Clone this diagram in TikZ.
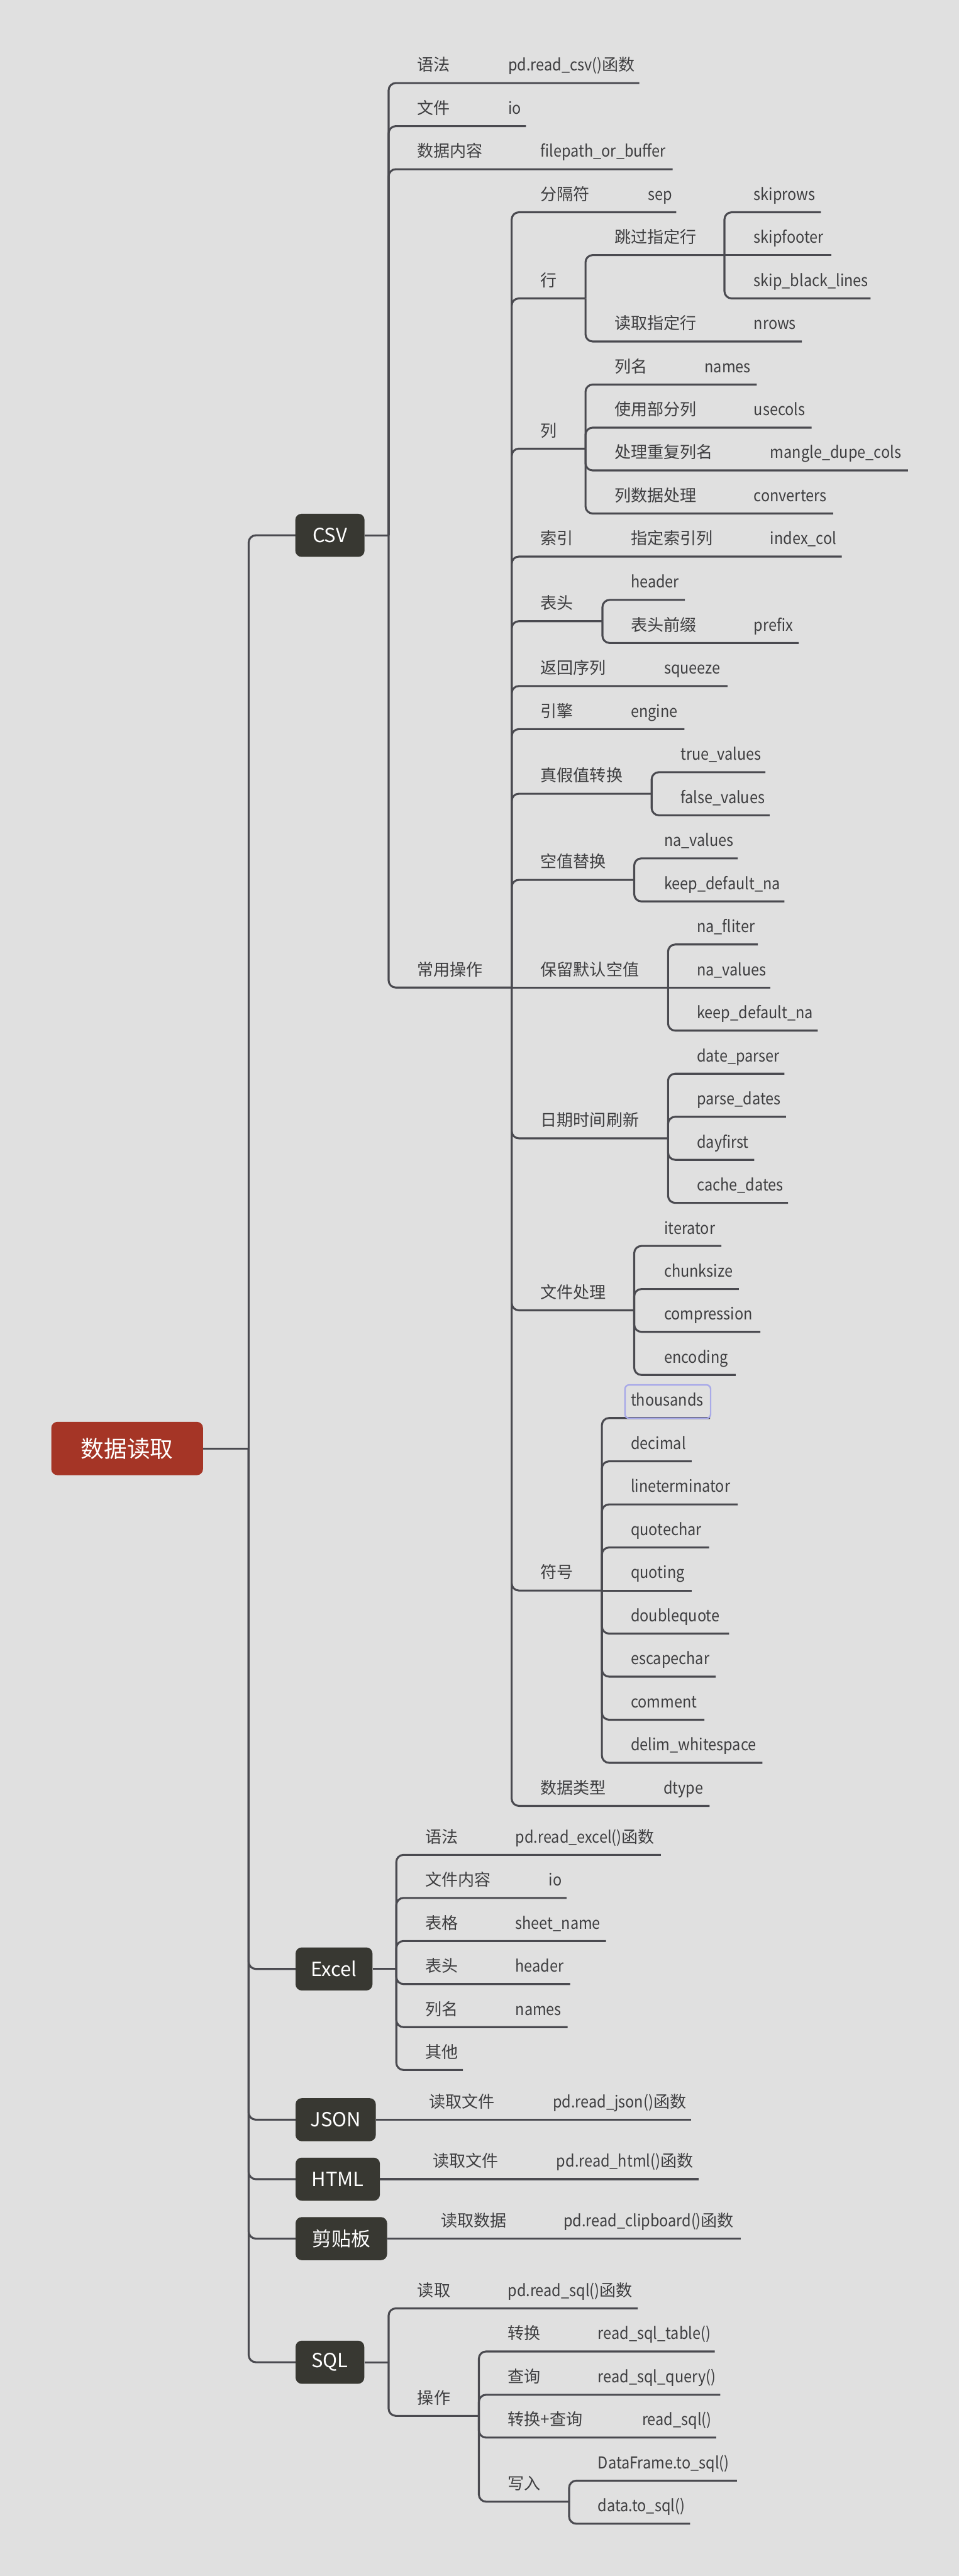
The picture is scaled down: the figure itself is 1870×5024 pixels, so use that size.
\documentclass[tikz,border=0pt]{standalone}
\usepackage{fontspec}
\setmainfont{Noto Sans CJK SC}
\newfontfamily\latf[FakeStretch=0.9]{Noto Sans CJK SC}
\definecolor{bg}{HTML}{E0E0E0}
\definecolor{ln}{HTML}{4A4A50}
\definecolor{tx}{HTML}{3E3E40}
\definecolor{boxc}{HTML}{383832}
\definecolor{rootc}{HTML}{A53526}
\definecolor{hl}{HTML}{A9AAE8}
\newcommand\T[4]{\node[lab] (#1) at (#2,#3-23.5) {#4};}
\newcommand\TL[4]{\node[lab,latlab] (#1) at (#2,#3-23.5) {#4};}
\newcommand\kid[5]{\coordinate (#1a) at (#2,#3);\coordinate (#1b) at (#2,#4);\coordinate (#1c) at (#5,#4);\draw[br] (#1a) -- (#1b) -- (#1c);}
\newcommand\stl[4]{\coordinate (#1a) at (#2,#3);\coordinate (#1c) at (#4,#3);\draw[br] (#1a) -- (#1c);}
\begin{document}
\begin{tikzpicture}[x=0.5pt,y=-0.5pt,
 lab/.style={anchor=base west,inner sep=0pt,text=tx,font=\fontsize{16}{19}\selectfont},
 latlab/.style={font=\latf\fontsize{16}{19}\selectfont},
 br/.style={draw=ln,line width=1.9pt,rounded corners=7pt},
 topbox/.style={fill=boxc,rounded corners=6pt,text=white,font=\fontsize{19}{22}\selectfont,inner sep=0pt,minimum height=42pt},
 rootbox/.style={fill=rootc,rounded corners=6pt,text=white,font=\fontsize{22.5}{26}\selectfont,inner sep=0pt,minimum width=148pt,minimum height=52pt},
 hlbox/.style={draw=hl,line width=1.5pt,rounded corners=4pt},
]
\fill[bg] (0,0) rectangle (1870,5024);
\useasboundingbox (0,0) rectangle (1870,5024);

% ---------- connectors ----------
\coordinate (rv) at (485,2825);
\kid{kcsv}{485}{2825}{1044}{577}
\kid{kxl}{485}{2825}{3840}{577}
\kid{kjs}{485}{2825}{4134}{577}
\kid{kht}{485}{2825}{4250}{577}
\kid{kcb}{485}{2825}{4366}{577}
\kid{ksq}{485}{2825}{4607}{577}

% CSV
\kid{c1}{758}{1044}{162}{1247}
\kid{c2}{758}{1044}{246}{1026}
\kid{c3}{758}{1044}{330}{1312}
\kid{c4}{758}{1044}{1926}{998}
% 常用操作
\kid{d1}{998}{1926}{414}{1319}
\kid{d2}{998}{1926}{582}{1142}
\kid{d3}{998}{1926}{875}{1142}
\kid{d4}{998}{1926}{1085.5}{1642}
\kid{d5}{998}{1926}{1211.5}{1175}
\kid{d6}{998}{1926}{1338}{1419}
\kid{d7}{998}{1926}{1422}{1335}
\kid{d8}{998}{1926}{1548}{1271}
\kid{d9}{998}{1926}{1716}{1237}
\stl{d10}{998}{1926}{1303}
\kid{d11}{998}{1926}{2220}{1303}
\kid{d12}{998}{1926}{2555.5}{1237}
\kid{d13}{998}{1926}{3102}{1174}
\kid{d14}{998}{1926}{3522}{1384}
% 行
\kid{e1}{1142}{582}{497.5}{1413}
\kid{e2}{1142}{582}{666}{1564}
\kid{e1a}{1413}{497.5}{414}{1601}
\stl{e1b}{1413}{497.5}{1621}
\kid{e1c}{1413}{497.5}{582}{1698}
% 列
\kid{f1}{1142}{875}{750}{1476}
\kid{f2}{1142}{875}{834}{1583}
\kid{f3}{1142}{875}{917.5}{1771}
\kid{f4}{1142}{875}{1001.5}{1625}
% 表头
\kid{g1}{1175}{1211.5}{1170}{1336}
\kid{g2}{1175}{1211.5}{1254}{1558}
% 真假值转换
\kid{h1}{1271}{1548}{1506}{1493}
\kid{h2}{1271}{1548}{1590}{1501}
% 空值替换
\kid{i1}{1237}{1716}{1674}{1439}
\kid{i2}{1237}{1716}{1758}{1530}
% 保留默认空值
\kid{j1}{1303}{1926}{1842}{1478}
\stl{j2}{1303}{1926}{1502}
\kid{j3}{1303}{1926}{2010}{1595}
% 日期时间刷新
\kid{k1}{1303}{2220}{2094}{1530}
\kid{k2}{1303}{2220}{2178}{1533}
\kid{k3}{1303}{2220}{2262}{1471}
\kid{k4}{1303}{2220}{2346}{1537}
% 文件处理
\kid{l1}{1237}{2555.5}{2430}{1407}
\kid{l2}{1237}{2555.5}{2514}{1441}
\kid{l3}{1237}{2555.5}{2597.5}{1483}
\kid{l4}{1237}{2555.5}{2681.5}{1435}
% 符号
\kid{m1}{1174}{3102}{2765.5}{1385}
\kid{m2}{1174}{3102}{2850}{1349}
\kid{m3}{1174}{3102}{2934}{1439}
\kid{m4}{1174}{3102}{3018}{1383}
\stl{m5}{1174}{3102}{1349}
\kid{m6}{1174}{3102}{3186}{1422}
\kid{m7}{1174}{3102}{3270}{1396}
\kid{m8}{1174}{3102}{3354}{1374}
\kid{m9}{1174}{3102}{3438}{1487}
% Excel
\kid{x1}{773}{3840}{3617.5}{1289}
\kid{x2}{773}{3840}{3701.5}{1105}
\kid{x3}{773}{3840}{3785.5}{1182}
\kid{x4}{773}{3840}{3869.5}{1112}
\kid{x5}{773}{3840}{3953.5}{1107}
\kid{x6}{773}{3840}{4037}{903}
% SQL
\kid{s1}{758}{4607}{4502}{1244}
\kid{s2}{758}{4607}{4711.6}{934}
\kid{s2a}{934}{4711.6}{4586}{1394}
\kid{s2b}{934}{4711.6}{4670.5}{1405}
\kid{s2c}{934}{4711.6}{4754}{1397}
\kid{s2d}{934}{4711.6}{4879}{1110}
\kid{s2e}{1110}{4879}{4838}{1437.5}
\kid{s2f}{1110}{4879}{4922}{1346}

% ---------- boxes ----------
\node[rootbox] (root) at (248,2825) {数据读取};
\node[topbox,minimum width=67.5pt] (csv) at (643.5,1044) {CSV};
\node[topbox,minimum width=75pt] (xl) at (651.5,3840) {Excel};
\node[topbox,minimum width=78.25pt] (js) at (654.75,4134) {JSON};
\node[topbox,minimum width=82.25pt] (ht) at (658.75,4250) {HTML};
\node[topbox,minimum width=89.25pt] (cb) at (665.75,4366) {剪贴板};
\node[topbox,minimum width=67pt] (sq) at (643.5,4607) {SQL};

\coordinate (cv) at (758,1044);
\coordinate (xv) at (773,3840);
\coordinate (jse) at (1348,4134);
\coordinate (hte) at (1362.5,4250);
\coordinate (cbe) at (1445,4366);
\coordinate (sv) at (758,4607);
\draw[br] (root.east) -- (rv);
\draw[br] (csv.east) -- (cv);
\draw[br] (xl.east) -- (xv);
\draw[br] (js.east) -- (jse);
\draw[br] (ht.east) -- (hte);
\draw[br] (cb.east) -- (cbe);
\draw[br] (sq.east) -- (sv);

% ---------- texts ----------
\T{a1}{813}{162}{语法} \T{a1v}{991}{162}{{\latf pd.read\_csv()}函数}
\T{a2}{813}{246}{文件} \TL{a2v}{991}{246}{io}
\T{a3}{813}{330}{数据内容} \TL{a3v}{1054}{330}{filepath\_or\_buffer}
\T{a4}{813}{1926}{常用操作}

\T{b1}{1054}{414}{分隔符} \TL{b1v}{1263}{414}{sep}
\T{b2}{1054}{582}{行}
\T{b2a}{1198}{497.5}{跳过指定行}
\TL{b2a1}{1470}{414}{skiprows}
\TL{b2a2}{1470}{497.5}{skipfooter}
\TL{b2a3}{1470}{582}{skip\_black\_lines}
\T{b2b}{1198}{666}{读取指定行} \TL{b2bv}{1470}{666}{nrows}
\T{b3}{1054}{875}{列}
\T{b3a}{1198}{750}{列名} \TL{b3av}{1374}{750}{names}
\T{b3b}{1198}{834}{使用部分列} \TL{b3bv}{1470}{834}{usecols}
\T{b3c}{1198}{917.5}{处理重复列名} \TL{b3cv}{1502}{917.5}{mangle\_dupe\_cols}
\T{b3d}{1198}{1001.5}{列数据处理} \TL{b3dv}{1470}{1001.5}{converters}
\T{b4}{1054}{1085.5}{索引} \T{b4a}{1230}{1085.5}{指定索引列} \TL{b4v}{1502}{1085.5}{index\_col}
\T{b5}{1054}{1211.5}{表头}
\TL{b5a}{1230}{1170}{header}
\T{b5b}{1230}{1254}{表头前缀} \TL{b5bv}{1470}{1254}{prefix}
\T{b6}{1054}{1338}{返回序列} \TL{b6v}{1295}{1338}{squeeze}
\T{b7}{1054}{1422}{引擎} \TL{b7v}{1230}{1422}{engine}
\T{b8}{1054}{1548}{真假值转换}
\TL{b8a}{1327}{1506}{true\_values}
\TL{b8b}{1327}{1590}{false\_values}
\T{b9}{1054}{1716}{空值替换}
\TL{b9a}{1295}{1674}{na\_values}
\TL{b9b}{1295}{1758}{keep\_default\_na}
\T{b10}{1054}{1926}{保留默认空值}
\TL{b10a}{1359}{1842}{na\_fliter}
\TL{b10b}{1359}{1926}{na\_values}
\TL{b10c}{1359}{2010}{keep\_default\_na}
\T{b11}{1054}{2220}{日期时间刷新}
\TL{b11a}{1359}{2094}{date\_parser}
\TL{b11b}{1359}{2178}{parse\_dates}
\TL{b11c}{1359}{2262}{dayfirst}
\TL{b11d}{1359}{2346}{cache\_dates}
\T{b12}{1054}{2555.5}{文件处理}
\TL{b12a}{1295}{2430}{iterator}
\TL{b12b}{1295}{2514}{chunksize}
\TL{b12c}{1295}{2597.5}{compression}
\TL{b12d}{1295}{2681.5}{encoding}
\T{b13}{1054}{3102}{符号}
\TL{b13a}{1230}{2765.5}{thousands}
\TL{b13b}{1230}{2850}{decimal}
\TL{b13c}{1230}{2934}{lineterminator}
\TL{b13d}{1230}{3018}{quotechar}
\TL{b13e}{1230}{3102}{quoting}
\TL{b13f}{1230}{3186}{doublequote}
\TL{b13g}{1230}{3270}{escapechar}
\TL{b13h}{1230}{3354}{comment}
\TL{b13i}{1230}{3438}{delim\_whitespace}
\T{b14}{1054}{3522}{数据类型} \TL{b14v}{1294}{3522}{dtype}

\draw[hlbox] (1219,2701) rectangle (1386,2766);

\T{x1t}{829}{3617.5}{语法} \T{x1v}{1005}{3617.5}{{\latf pd.read\_excel()}函数}
\T{x2t}{829}{3701.5}{文件内容} \TL{x2v}{1070}{3701.5}{io}
\T{x3t}{829}{3785.5}{表格} \TL{x3v}{1005}{3785.5}{sheet\_name}
\T{x4t}{829}{3869.5}{表头} \TL{x4v}{1005}{3869.5}{header}
\T{x5t}{829}{3953.5}{列名} \TL{x5v}{1005}{3953.5}{names}
\T{x6t}{829}{4037}{其他}

\T{jst}{837}{4134}{读取文件} \T{jsv}{1078}{4134}{{\latf pd.read\_json()}函数}
\T{htt}{844}{4250}{读取文件} \T{htv}{1085}{4250}{{\latf pd.read\_html()}函数}
\T{cbt}{860}{4366}{读取数据} \T{cbv}{1099}{4366}{{\latf pd.read\_clipboard()}函数}

\T{s1t}{814}{4502}{读取} \T{s1v}{990}{4502}{{\latf pd.read\_sql()}函数}
\T{s2t}{814}{4711.6}{操作}
\T{s2at}{990}{4586}{转换} \TL{s2av}{1166}{4586}{read\_sql\_table()}
\T{s2bt}{990}{4670.5}{查询} \TL{s2bv}{1166}{4670.5}{read\_sql\_query()}
\T{s2ct}{990}{4754}{转换+查询} \TL{s2cv}{1252}{4754}{read\_sql()}
\T{s2dt}{990}{4879}{写入}
\TL{s2et}{1166}{4838}{DataFrame.to\_sql()}
\TL{s2ft}{1166}{4922}{data.to\_sql()}
\end{tikzpicture}
\end{document}
